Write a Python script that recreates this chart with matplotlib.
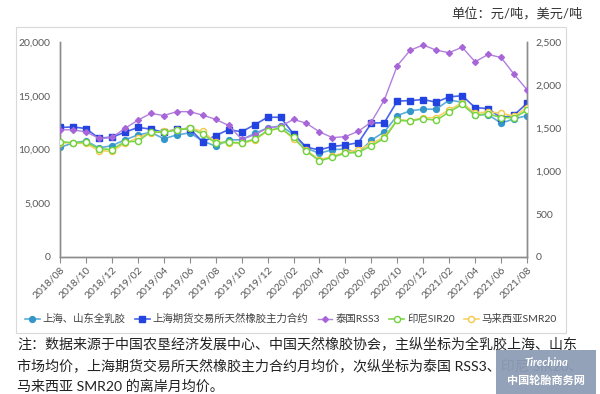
import matplotlib
matplotlib.use("Agg")
import matplotlib.pyplot as plt
from matplotlib.patches import Rectangle
from matplotlib.ticker import FuncFormatter
import numpy as np

plt.rcParams['font.family'] = ['Lato', 'Noto Sans CJK SC', 'DejaVu Sans']

months = [f"{y}/{m:02d}" for y in (2018, 2019, 2020, 2021) for m in range(1, 13)]
months = months[months.index("2018/08"):months.index("2021/08") + 1]

# 上海、山东全乳胶 (元/吨, left axis)
sh_sd = [10200, 10600, 10800, 10150, 10350, 10900, 11350, 11600, 11000, 11350,
         11550, 10800, 10300, 10900, 10900, 11500, 12000, 12200, 11420, 10100,
         9650, 9980, 10050, 9680, 10870, 11640, 13150, 13600, 13750, 13750,
         14600, 14400, 13200, 13250, 12450, 12850, 13150]
# 上海期货交易所天然橡胶主力合约 (元/吨, left axis)
shfe = [12050, 12100, 11950, 11050, 11150, 11600, 12050, 11900, 11600, 11900,
        11950, 10700, 11300, 11850, 11650, 12300, 13000, 13000, 11450, 10200,
        9970, 10280, 10420, 10630, 12450, 12500, 14500, 14550, 14650, 14400,
        14900, 15000, 13900, 13800, 12950, 13200, 14300]
# 泰国RSS3 (美元/吨, right axis)
rss3 = [1480, 1478, 1455, 1380, 1390, 1495, 1590, 1670, 1645, 1690,
        1690, 1650, 1600, 1530, 1370, 1420, 1500, 1520, 1600, 1555,
        1455, 1388, 1400, 1462, 1570, 1826, 2225, 2405, 2465, 2405,
        2375, 2440, 2270, 2355, 2320, 2125, 1945]
# 印尼SIR20 (美元/吨, right axis)
sir20 = [1343, 1327, 1335, 1258, 1250, 1340, 1345, 1455, 1450, 1477,
         1497, 1430, 1327, 1335, 1327, 1370, 1470, 1500, 1390, 1230,
         1118, 1160, 1208, 1215, 1295, 1378, 1589, 1581, 1609, 1589,
         1686, 1775, 1647, 1667, 1620, 1620, 1705]
# 马来西亚SMR20 (美元/吨, right axis)
smr20 = [1330, 1325, 1320, 1235, 1230, 1320, 1385, 1445, 1460, 1480,
         1500, 1460, 1335, 1330, 1320, 1360, 1465, 1500, 1375, 1240,
         1130, 1172, 1218, 1245, 1318, 1395, 1597, 1585, 1620, 1620,
         1713, 1790, 1674, 1686, 1674, 1636, 1736]

labels = ["上海、山东全乳胶", "上海期货交易所天然橡胶主力合约", "泰国RSS3", "印尼SIR20", "马来西亚SMR20"]
title = "单位：元/吨，美元/吨"
note_lines = [
    "注：数据来源于中国农垦经济发展中心、中国天然橡胶协会，主纵坐标为全乳胶上海、山东",
    "市场均价，上海期货交易所天然橡胶主力合约月均价，次纵坐标为泰国 RSS3、印尼 SIR20、",
    "马来西亚 SMR20 的离岸月均价。",
]

fig = plt.figure(figsize=(6.0, 3.94), dpi=100)
fig.patch.set_facecolor("white")

# chart frame
fig.patches.append(Rectangle((16 / 600, 1 - 333 / 394), 550 / 600, 306 / 394,
                             transform=fig.transFigure, fill=False,
                             edgecolor="#d9d9d9", linewidth=0.8, zorder=0))

ax = fig.add_axes([60 / 600, 1 - 257 / 394, 467 / 600, 215 / 394])
ax2 = ax.twinx()
x = np.arange(len(months))

c_a, c_b, c_c, c_d, c_e = "#3596c9", "#2343e0", "#a865d8", "#6fd23a", "#f5c84a"

la, = ax.plot(x, sh_sd, color="#5eaedc", lw=1.2, marker="o", ms=4.2,
              mfc=c_a, mec=c_a, label=labels[0], zorder=3)
lb, = ax.plot(x, shfe, color="#4a64ea", lw=1.2, marker="s", ms=4.6,
              mfc=c_b, mec=c_b, label=labels[1], zorder=4)
lc, = ax2.plot(x, rss3, color="#b27fdc", lw=1.0, marker="D", ms=3.0,
               mfc=c_c, mec=c_c, label=labels[2], zorder=3)
le, = ax2.plot(x, smr20, color="#f7d36a", lw=1.2, marker="o", ms=4.4,
               mfc="white", mec=c_e, mew=1.0, label=labels[4], zorder=4)
ld, = ax2.plot(x, sir20, color="#7ed84e", lw=1.2, marker="o", ms=4.4,
               mfc="white", mec=c_d, mew=1.0, label=labels[3], zorder=5)

ax.set_xlim(0, len(months) - 1)
ax.set_ylim(0, 20000)
ax2.set_ylim(0, 2500)
ax.set_yticks([0, 5000, 10000, 15000, 20000])
ax2.set_yticks([0, 500, 1000, 1500, 2000, 2500])
fmt = FuncFormatter(lambda v, p: f"{int(v):,}")
ax.yaxis.set_major_formatter(fmt)
ax2.yaxis.set_major_formatter(fmt)

ax.set_xticks(x[::2])
ax.set_xticklabels(months[::2], rotation=45, ha="right", va="top",
                   rotation_mode="anchor", fontsize=7.5, color="#595959")

for a in (ax, ax2):
    for s in a.spines.values():
        s.set_color("#8c8c8c")
        s.set_linewidth(1.0)
    a.spines["top"].set_visible(False)
    a.set_facecolor("none")
ax.tick_params(axis="y", length=0, pad=7, labelsize=7.5, labelcolor="#595959")
ax2.tick_params(axis="y", length=0, pad=6, labelsize=7.5, labelcolor="#595959")
ax.tick_params(axis="x", length=4, color="#8c8c8c", pad=2)

handles = [la, lb, lc, ld, le]
leg = fig.legend(handles, labels, loc="center", bbox_to_anchor=(291 / 600, 1 - 319 / 394),
                 ncol=5, frameon=False, fontsize=7.5, handlelength=1.4,
                 handletextpad=0.3, columnspacing=0.9, borderaxespad=0)
for t in leg.get_texts():
    t.set_color("#404040")

fig.text(583 / 600, 1 - 13 / 394, title, ha="right", va="center",
         fontsize=9.5, color="#333333")

ys = [344, 366, 386]
for line, yy in zip(note_lines, ys):
    fig.text(17 / 600, 1 - yy / 394, line, ha="left", va="center",
             fontsize=10.1, color="#222222")

# watermark box
fig.patches.append(Rectangle((496 / 600, 0), 100 / 600, 44 / 394,
                             transform=fig.transFigure, facecolor="#8d9db6",
                             edgecolor="none", alpha=0.95, zorder=10))
fig.text(546 / 600, 1 - 362 / 394, "Tirechina", ha="center", va="center",
         fontsize=8, color="white", style="italic", fontweight="bold", zorder=11)
fig.text(546 / 600, 1 - 380 / 394, "中国轮胎商务网", ha="center", va="center",
         fontsize=8, color="white", fontweight="bold", zorder=11)

fig.savefig("out.png", dpi=100, facecolor="white")
